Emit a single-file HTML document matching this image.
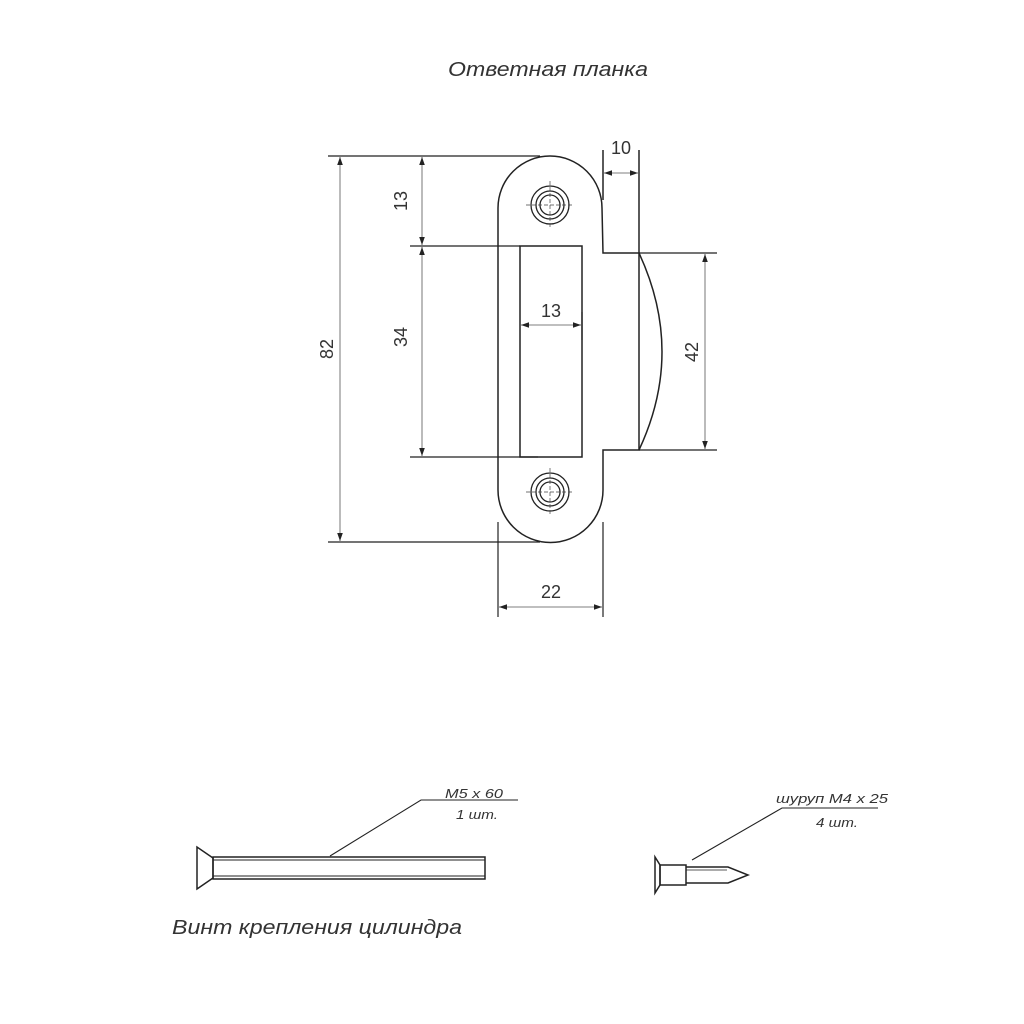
<!DOCTYPE html>
<html><head><meta charset="utf-8"><style>
html,body{margin:0;padding:0;background:#fff;}
svg{display:block;}
text{font-family:"Liberation Sans",sans-serif;fill:#333;}
</style></head><body>
<svg width="1024" height="1024" viewBox="0 0 1024 1024" xmlns="http://www.w3.org/2000/svg">
<defs>
<marker id="a" viewBox="0 0 10 10" refX="10" refY="5" markerWidth="8" markerHeight="8" orient="auto-start-reverse" markerUnits="userSpaceOnUse"><path d="M0,1.5 L10,5 L0,8.5 z" fill="#222"/></marker>
</defs>
<text x="448" y="76" font-size="20" font-style="italic" textLength="200" lengthAdjust="spacingAndGlyphs">Ответная планка</text>

<g fill="none" stroke="#222" stroke-width="1.5">
<path d="M498,208 A52,52 0 0 1 602,208 L603,253 L639,253 L639,450 L603,450 L603,490 A52,52 0 0 1 498,490 Z"/>
<path d="M639,253 Q685,352 639,450"/>
<rect x="520" y="246" width="62" height="211"/>
<line x1="639" y1="150" x2="639" y2="253"/>
<line x1="603" y1="150" x2="603" y2="200"/>
</g>
<g fill="none" stroke="#222" stroke-width="1.3">
<circle cx="550" cy="205" r="19"/><circle cx="550" cy="205" r="14"/><circle cx="550" cy="205" r="10"/>
<circle cx="550" cy="492" r="19"/><circle cx="550" cy="492" r="14"/><circle cx="550" cy="492" r="10"/>
</g>
<g stroke="#444" stroke-width="0.7" stroke-dasharray="4,2">
<line x1="526" y1="205" x2="574" y2="205"/><line x1="550" y1="181" x2="550" y2="229"/>
<line x1="526" y1="492" x2="574" y2="492"/><line x1="550" y1="468" x2="550" y2="516"/>
</g>

<g stroke="#222" stroke-width="1.2" fill="none">
<line x1="328" y1="156" x2="540" y2="156"/>
<line x1="328" y1="542" x2="540" y2="542"/>
<line x1="410" y1="246" x2="520" y2="246"/>
<line x1="410" y1="457" x2="538" y2="457"/>
<line x1="639" y1="253" x2="717" y2="253"/>
<line x1="639" y1="450" x2="717" y2="450"/>
<line x1="498" y1="522" x2="498" y2="617"/>
<line x1="603" y1="522" x2="603" y2="617"/>
<line x1="582" y1="312" x2="582" y2="340"/>
</g>
<g stroke="#555" stroke-width="0.8" fill="none">
<line x1="340" y1="157" x2="340" y2="541" marker-start="url(#a)" marker-end="url(#a)"/>
<line x1="422" y1="157" x2="422" y2="245" marker-start="url(#a)" marker-end="url(#a)"/>
<line x1="422" y1="247" x2="422" y2="456" marker-start="url(#a)" marker-end="url(#a)"/>
<line x1="521" y1="325" x2="581" y2="325" marker-start="url(#a)" marker-end="url(#a)"/>
<line x1="705" y1="254" x2="705" y2="449" marker-start="url(#a)" marker-end="url(#a)"/>
<line x1="604" y1="173" x2="638" y2="173" marker-start="url(#a)" marker-end="url(#a)"/>
<line x1="499" y1="607" x2="602" y2="607" marker-start="url(#a)" marker-end="url(#a)"/>
</g>
<g font-size="18">
<text transform="translate(333,349) rotate(-90)" text-anchor="middle">82</text>
<text transform="translate(407,201) rotate(-90)" text-anchor="middle">13</text>
<text transform="translate(407,337) rotate(-90)" text-anchor="middle">34</text>
<text transform="translate(698,352) rotate(-90)" text-anchor="middle">42</text>
<text x="551" y="317" text-anchor="middle">13</text>
<text x="621" y="154" text-anchor="middle">10</text>
<text x="551" y="598" text-anchor="middle">22</text>
</g>

<g fill="none" stroke="#222" stroke-width="1.5">
<path d="M197,847 L197,889 L213,878 L213,858 Z"/>
<rect x="213" y="857" width="272" height="22"/>
<line x1="213" y1="860" x2="485" y2="860" stroke-width="1"/>
<line x1="213" y1="876" x2="485" y2="876" stroke-width="1"/>
<path d="M330,856 L421,800 L518,800" stroke-width="1.1"/>
<path d="M655,857 L655,893 L660,885 L660,865 Z"/>
<rect x="660" y="865" width="26" height="20"/>
<path d="M686,867 L728,867 L748,875 L728,883 L686,883"/>
<line x1="686" y1="870" x2="727" y2="870" stroke-width="0.8"/>
<path d="M692,860 L782,808 L878,808" stroke-width="1.1"/>
</g>
<g font-size="13" font-style="italic">
<text x="445" y="798" textLength="58" lengthAdjust="spacingAndGlyphs">M5 x 60</text>
<text x="456" y="819" textLength="42" lengthAdjust="spacingAndGlyphs">1 шт.</text>
<text x="776" y="803" textLength="112" lengthAdjust="spacingAndGlyphs">шуруп M4 x 25</text>
<text x="816" y="827" textLength="42" lengthAdjust="spacingAndGlyphs">4 шт.</text>
</g>
<text x="172" y="934" font-size="20" font-style="italic" textLength="290" lengthAdjust="spacingAndGlyphs">Винт крепления цилиндра</text>
</svg>
</body></html>
